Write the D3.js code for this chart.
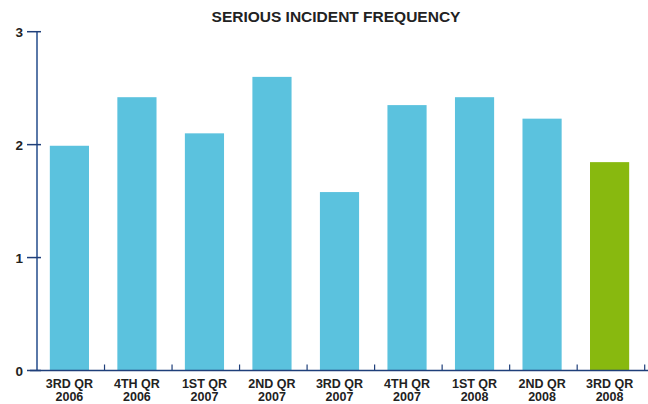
<!DOCTYPE html>
<html><head><meta charset="utf-8">
<script src="https://cdn.jsdelivr.net/npm/d3@7"></script>
<style>body{margin:0;background:#fff}svg{display:block}</style>
</head><body>
<svg id="c" width="648" height="404"></svg>
<script>
const categories = [["3RD QR","2006"],["4TH QR","2006"],["1ST QR","2007"],["2ND QR","2007"],["3RD QR","2007"],["4TH QR","2007"],["1ST QR","2008"],["2ND QR","2008"],["3RD QR","2008"]];
const values = [1.99, 2.42, 2.10, 2.60, 1.58, 2.35, 2.42, 2.23, 1.845];
const barColors = ["#5BC2DE","#5BC2DE","#5BC2DE","#5BC2DE","#5BC2DE","#5BC2DE","#5BC2DE","#5BC2DE","#88B90F"];
const yTicks = [0,1,2,3];
const title = "SERIOUS INCIDENT FREQUENCY";

const svg = d3.select("#c");
const font = "Liberation Sans, Arial, sans-serif";
const x = d3.scaleBand().domain(d3.range(categories.length)).range([37, 642]).paddingInner(0.42).paddingOuter(0.19);
const y = d3.scaleLinear().domain([0,3]).range([370.5, 31.7]);

svg.append("text").attr("x", 336).attr("y", 22).attr("text-anchor","middle")
  .attr("font-family", font).attr("font-weight","bold").attr("font-size", 15.5).attr("fill","#222").text(title);

svg.selectAll("rect.bar").data(values).join("rect").attr("class","bar")
  .attr("x",(d,i)=>x(i)).attr("width",x.bandwidth())
  .attr("y",d=>y(d)).attr("height",d=>y(0)-y(d))
  .attr("fill",(d,i)=>barColors[i]);

// y axis line
svg.append("line").attr("x1",37).attr("x2",37).attr("y1",y(3)).attr("y2",y(0))
  .attr("stroke","#5a78a8").attr("stroke-width",2);
// y ticks
svg.selectAll("line.yt").data(yTicks).join("line").attr("class","yt")
  .attr("x1",27).attr("x2",41).attr("y1",d=>y(d)).attr("y2",d=>y(d))
  .attr("stroke","#1f3f7a").attr("stroke-width",1.5);
svg.selectAll("text.yl").data(yTicks).join("text").attr("class","yl")
  .attr("x",23).attr("y",d=>y(d)+5).attr("text-anchor","end")
  .attr("font-family",font).attr("font-weight","bold").attr("font-size",13.5).attr("fill","#222").text(d=>d);

// x axis
svg.append("line").attr("x1",30).attr("x2",648).attr("y1",y(0)).attr("y2",y(0))
  .attr("stroke","#1f3f7a").attr("stroke-width",1.5);
const step = x.step();
const bounds = d3.range(1, categories.length+1).map(i => 37 + step*i);
svg.selectAll("line.xt").data(bounds).join("line").attr("class","xt")
  .attr("x1",d=>d).attr("x2",d=>d).attr("y1",y(0)-6).attr("y2",y(0))
  .attr("stroke","#1f3f7a").attr("stroke-width",1.2);

const lbl = svg.selectAll("text.xl").data(categories).join("text").attr("class","xl")
  .attr("text-anchor","middle").attr("font-family",font).attr("font-weight","bold")
  .attr("font-size",12.5).attr("fill","#222");
lbl.each(function(d,i){
  const t = d3.select(this);
  const cx = x(i) + x.bandwidth()/2;
  t.append("tspan").attr("x",cx).attr("y",388).text(d[0]);
  t.append("tspan").attr("x",cx).attr("y",401).text(d[1]);
});
</script>
</body></html>
